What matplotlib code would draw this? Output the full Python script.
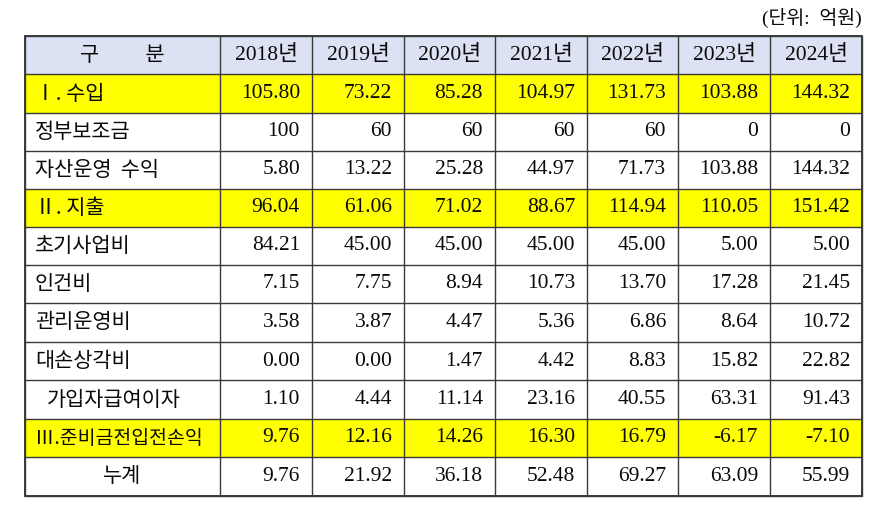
import matplotlib
matplotlib.use("Agg")
import matplotlib.pyplot as plt
from matplotlib.patches import Rectangle

# ---- data ----
years = ["2018년", "2019년", "2020년", "2021년", "2022년", "2023년", "2024년"]
row_labels = ["Ⅰ. 수입", "정부보조금", "자산운영  수익", "Ⅱ. 지출", "초기사업비", "인건비",
              "관리운영비", "대손상각비", "가입자급여이자", "Ⅲ.준비금전입전손익", "누계"]
income = ["105.80", "73.22", "85.28", "104.97", "131.73", "103.88", "144.32"]
subsidy = ["100", "60", "60", "60", "60", "0", "0"]
asset_income = ["5.80", "13.22", "25.28", "44.97", "71.73", "103.88", "144.32"]
expense = ["96.04", "61.06", "71.02", "88.67", "114.94", "110.05", "151.42"]
initial_cost = ["84.21", "45.00", "45.00", "45.00", "45.00", "5.00", "5.00"]
personnel = ["7.15", "7.75", "8.94", "10.73", "13.70", "17.28", "21.45"]
admin_cost = ["3.58", "3.87", "4.47", "5.36", "6.86", "8.64", "10.72"]
bad_debt = ["0.00", "0.00", "1.47", "4.42", "8.83", "15.82", "22.82"]
interest = ["1.10", "4.44", "11.14", "23.16", "40.55", "63.31", "91.43"]
reserve_pl = ["9.76", "12.16", "14.26", "16.30", "16.79", "-6.17", "-7.10"]
cumulative = ["9.76", "21.92", "36.18", "52.48", "69.27", "63.09", "55.99"]
highlight_rows = [0, 3, 9]
header_label = "구          분"
unit_label = "(단위:  억원)"

rows = [income, subsidy, asset_income, expense, initial_cost, personnel,
        admin_cost, bad_debt, interest, reserve_pl, cumulative]

# ---- layout ----
W, H = 893, 520
fig = plt.figure(figsize=(W / 100, H / 100), dpi=100)
ax = fig.add_axes([0, 0, 1, 1])
ax.set_xlim(0, W)
ax.set_ylim(H, 0)
ax.axis("off")

col_x = [25, 220, 312, 404, 495, 587, 678, 770, 862]
row_y = [36, 74, 113, 151, 189, 227, 265, 303, 342, 380, 419, 457, 496]

kfont = ["Noto Sans CJK KR", "DejaVu Sans"]
nfont = ["Liberation Serif", "Noto Sans CJK KR", "DejaVu Sans"]
line_c = "#3a3a3a"
header_bg = "#dce2f3"
yellow = "#ffff00"
txt_c = "#0a0a0a"

# backgrounds
ax.add_patch(Rectangle((col_x[0], row_y[0]), col_x[-1] - col_x[0], row_y[1] - row_y[0],
                       facecolor=header_bg, edgecolor="none"))
for r in highlight_rows:
    ax.add_patch(Rectangle((col_x[0], row_y[r + 1]), col_x[-1] - col_x[0],
                           row_y[r + 2] - row_y[r + 1], facecolor=yellow, edgecolor="none"))

# grid lines
for x in col_x:
    ax.plot([x, x], [row_y[0], row_y[-1]], color=line_c, lw=1.0, solid_capstyle="butt")
for y in row_y:
    ax.plot([col_x[0], col_x[-1]], [y, y], color=line_c, lw=1.0, solid_capstyle="butt")
ax.add_patch(Rectangle((col_x[0], row_y[0]), col_x[-1] - col_x[0], row_y[-1] - row_y[0],
                       facecolor="none", edgecolor=line_c, lw=1.4))

# unit label
ax.text(col_x[-1], 18, unit_label, ha="right", va="center", fontsize=14,
        family=nfont, color=txt_c)

# header
ymid = (row_y[0] + row_y[1]) / 2
ax.text((col_x[0] + col_x[1]) / 2, ymid, header_label, ha="center", va="center",
        fontsize=15, family=kfont, color=txt_c)
for j, yr in enumerate(years):
    ax.text((col_x[j + 1] + col_x[j + 2]) / 2, ymid, yr, ha="center", va="center",
            fontsize=15.5, family=nfont, color=txt_c)

# body
for i, (lab, vals) in enumerate(zip(row_labels, rows)):
    ym = (row_y[i + 1] + row_y[i + 2]) / 2
    if lab == "누계":
        ax.text((col_x[0] + col_x[1]) / 2, ym, lab, ha="center", va="center",
                fontsize=15, family=kfont, color=txt_c)
    elif lab == "가입자급여이자":
        ax.text(col_x[0] + 22, ym, lab, ha="left", va="center",
                fontsize=15, family=kfont, color=txt_c)
    elif lab.startswith("Ⅲ"):
        ax.text(col_x[0] + 10, ym, lab, ha="left", va="center",
                fontsize=14, family=kfont, color=txt_c)
    else:
        ax.text(col_x[0] + 10, ym, lab, ha="left", va="center",
                fontsize=15, family=kfont, color=txt_c)
    for j, v in enumerate(vals):
        ax.text(col_x[j + 2] - 12, ym, v, ha="right", va="center",
                fontsize=15.5, family=nfont, color=txt_c)

fig.savefig("out.png", dpi=100, facecolor="white")
